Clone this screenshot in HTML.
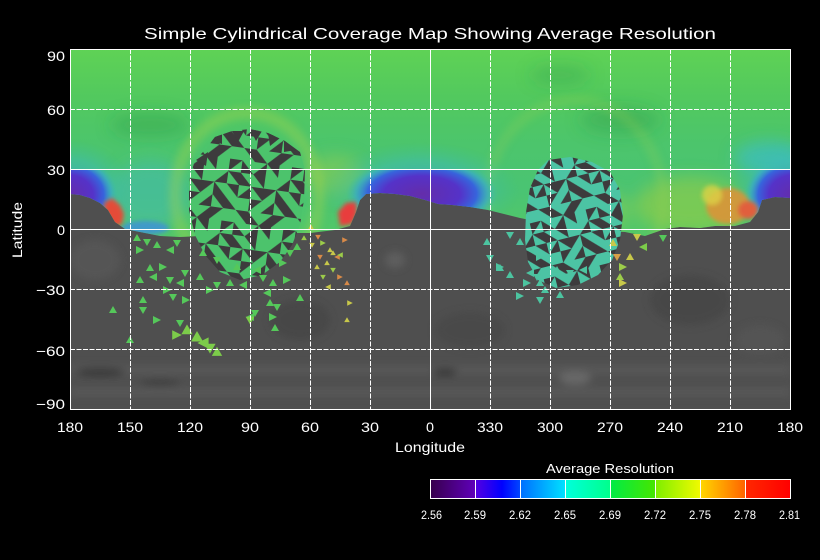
<!DOCTYPE html>
<html><head><meta charset="utf-8"><style>
html,body{margin:0;padding:0;background:#000;}
body{width:820px;height:560px;overflow:hidden;}
svg{display:block;}
text{font-family:"Liberation Sans",sans-serif;fill:#fff;}
</style></head><body>
<svg width="820" height="560" viewBox="0 0 820 560" xmlns="http://www.w3.org/2000/svg">
<defs>
 <clipPath id="plot"><rect x="71" y="50" width="719" height="359"/></clipPath>
 <clipPath id="greenClip"><path d="M70,49 H790 V198 L775,197 L762,200 L758,212 L750,222 L735,226 L715,226 L700,228 L680,227 L665,229 L645,236 L625,232 L600,231 L580,229 L560,226 L540,222 L520,218 L500,213 L488,210 L470,207 L452,205 L438,204 L425,200 L410,196 L395,194 L380,193 L366,194 L360,200 L356,212 L350,226 L335,230 L310,233 L290,233 L250,233 L200,236 L180,237 L160,236 L140,232 L125,229 L115,222 L108,210 L100,203 L90,198 L80,195 L70,194 Z"/></clipPath>
 <clipPath id="below30"><rect x="60" y="169" width="740" height="100"/></clipPath>
 <clipPath id="circL"><path d="M205,150 L215,137 L232,131 L250,129 L268,133 L285,141 L300,152 L305,170 L304,200 L300,225 L292,245 L280,262 L262,275 L240,280 L220,272 L205,255 L195,235 L189,210 L189,180 L195,160 Z"/></clipPath>
 <clipPath id="circR"><path d="M548,160 L570,157 L592,162 L610,172 L620,190 L623,215 L620,240 L612,260 L598,275 L578,285 L556,288 L538,280 L528,262 L525,240 L526,212 L530,188 L538,170 Z"/></clipPath>
 <linearGradient id="gGreen" x1="0" y1="49" x2="0" y2="240" gradientUnits="userSpaceOnUse">
  <stop offset="0" stop-color="rgb(95,210,85)"/>
  <stop offset="0.25" stop-color="rgb(82,201,94)"/>
  <stop offset="0.5" stop-color="rgb(76,197,108)"/>
  <stop offset="0.75" stop-color="rgb(74,196,115)"/>
  <stop offset="1" stop-color="rgb(84,200,102)"/>
 </linearGradient>
 <radialGradient id="purp">
  <stop offset="0" stop-color="rgb(100,45,170)"/>
  <stop offset="0.5" stop-color="rgb(85,50,200)"/>
  <stop offset="0.72" stop-color="rgb(55,100,220)"/>
  <stop offset="0.87" stop-color="rgb(55,165,205)" stop-opacity="0.6"/>
  <stop offset="1" stop-color="rgb(60,190,160)" stop-opacity="0"/>
 </radialGradient>
 <radialGradient id="halo">
  <stop offset="0" stop-color="rgb(55,150,215)" stop-opacity="0.7"/>
  <stop offset="0.6" stop-color="rgb(60,185,190)" stop-opacity="0.45"/>
  <stop offset="1" stop-color="rgb(60,190,160)" stop-opacity="0"/>
 </radialGradient>
 <filter id="b2" x="-50%" y="-50%" width="200%" height="200%"><feGaussianBlur stdDeviation="2"/></filter>
 <filter id="b4" x="-50%" y="-50%" width="200%" height="200%"><feGaussianBlur stdDeviation="4"/></filter>
 <filter id="b8" x="-50%" y="-50%" width="200%" height="200%"><feGaussianBlur stdDeviation="8"/></filter>
 <g id="darkTiles">
  <polygon points="0,0 10,0 0,10"/>
  <polygon points="10,0 10,10 20,10"/>
  <polygon points="30,0 30,10 20,10"/>
  <polygon points="30,0 40,0 40,10"/>
  <polygon points="0,10 10,10 10,20"/>
  <polygon points="10,10 10,20 20,20"/>
  <polygon points="20,10 30,10 30,20"/>
  <polygon points="50,10 50,20 40,20"/>
  <polygon points="0,20 10,20 10,30"/>
  <polygon points="20,20 20,30 10,30"/>
  <polygon points="20,20 30,20 30,30"/>
  <polygon points="30,20 40,20 30,30"/>
  <polygon points="40,20 40,30 50,30"/>
  <polygon points="0,30 0,40 10,40"/>
  <polygon points="20,30 30,30 20,40"/>
  <polygon points="40,30 40,40 30,40"/>
  <polygon points="40,30 50,30 50,40"/>
  <polygon points="10,40 20,40 20,50"/>
  <polygon points="20,40 20,50 30,50"/>
  <polygon points="40,40 40,50 30,50"/>
  <polygon points="40,40 50,40 40,50"/>
 </g>
 <pattern id="pL" width="50" height="50" patternUnits="userSpaceOnUse" patternTransform="rotate(8) scale(1.25)">
  <rect width="50" height="50" fill="#4cc36c"/>
  <use href="#darkTiles" fill="#3d3b3d"/>
 </pattern>
 <pattern id="pR" width="50" height="50" patternUnits="userSpaceOnUse" patternTransform="rotate(-14) scale(1.15)">
  <rect width="50" height="50" fill="#4cc4a4"/>
  <use href="#darkTiles" fill="#3d3b3d"/>
 </pattern>
 <polygon id="t1" points="0,-4 4,3 -4,3"/>
 <polygon id="t2" points="-4,-3 4,-3 0,4"/>
 <polygon id="t3" points="-4,-4 4,0 -4,4"/>
 <polygon id="t4" points="4,-4 -4,0 4,4"/>
 <linearGradient id="cbar" x1="430" y1="0" x2="790" y2="0" gradientUnits="userSpaceOnUse">
  <stop offset="0" stop-color="rgb(55,0,75)"/>
  <stop offset="0.125" stop-color="rgb(95,0,185)"/>
  <stop offset="0.126" stop-color="rgb(85,0,225)"/>
  <stop offset="0.2" stop-color="rgb(0,0,255)"/>
  <stop offset="0.25" stop-color="rgb(0,70,255)"/>
  <stop offset="0.251" stop-color="rgb(0,110,255)"/>
  <stop offset="0.375" stop-color="rgb(0,225,255)"/>
  <stop offset="0.376" stop-color="rgb(0,255,220)"/>
  <stop offset="0.5" stop-color="rgb(0,255,140)"/>
  <stop offset="0.501" stop-color="rgb(0,235,70)"/>
  <stop offset="0.625" stop-color="rgb(70,230,0)"/>
  <stop offset="0.626" stop-color="rgb(125,238,0)"/>
  <stop offset="0.75" stop-color="rgb(240,250,0)"/>
  <stop offset="0.751" stop-color="rgb(255,215,0)"/>
  <stop offset="0.875" stop-color="rgb(255,100,0)"/>
  <stop offset="0.876" stop-color="rgb(255,40,0)"/>
  <stop offset="1" stop-color="rgb(255,0,0)"/>
 </linearGradient>
</defs>

<rect width="820" height="560" fill="#000"/>

<g clip-path="url(#plot)">
 <rect x="70" y="49" width="720" height="360" fill="#4f4f4f"/>
 <g filter="url(#b4)" opacity="0.9">
  <rect x="70" y="365" width="720" height="10" fill="#585858"/>
  <rect x="70" y="388" width="720" height="8" fill="#5a5a5a"/>
  <ellipse cx="100" cy="372" rx="25" ry="4" fill="#353535"/>
  <ellipse cx="160" cy="383" rx="20" ry="3" fill="#3a3a3a"/>
  <ellipse cx="575" cy="378" rx="16" ry="7" fill="#6a6a6a"/>
  <ellipse cx="445" cy="372" rx="12" ry="4" fill="#383838"/>
  <ellipse cx="300" cy="320" rx="30" ry="20" fill="#474747"/>
  <ellipse cx="690" cy="300" rx="40" ry="25" fill="#474747"/>
  <ellipse cx="395" cy="260" rx="10" ry="8" fill="#606060"/>
  <ellipse cx="95" cy="260" rx="25" ry="20" fill="#565656"/>
  <ellipse cx="470" cy="330" rx="35" ry="18" fill="#484848"/>
  <ellipse cx="760" cy="340" rx="25" ry="15" fill="#555"/>
 </g>

 <g clip-path="url(#greenClip)">
  <rect x="70" y="49" width="720" height="200" fill="url(#gGreen)"/>
  <g filter="url(#b8)">
   <ellipse cx="150" cy="125" rx="40" ry="12" fill="rgb(45,150,70)" opacity="0.35"/>
   <ellipse cx="620" cy="120" rx="40" ry="14" fill="rgb(45,150,75)" opacity="0.35"/>
   <ellipse cx="560" cy="75" rx="30" ry="10" fill="rgb(45,150,75)" opacity="0.3"/>
   <ellipse cx="150" cy="195" rx="40" ry="35" fill="rgb(65,185,175)" opacity="0.55"/>
   <ellipse cx="770" cy="158" rx="35" ry="16" fill="rgb(60,190,200)" opacity="0.7"/>
   <ellipse cx="335" cy="175" rx="30" ry="20" fill="rgb(150,205,80)" opacity="0.5"/>
   <ellipse cx="690" cy="205" rx="55" ry="28" fill="rgb(150,205,70)" opacity="0.6"/>
   <ellipse cx="600" cy="210" rx="30" ry="20" fill="rgb(150,205,75)" opacity="0.5"/>
  </g>
  <ellipse cx="247" cy="195" rx="72" ry="82" fill="none" stroke="rgb(165,212,75)" stroke-width="12" opacity="0.38" filter="url(#b4)"/>
  <ellipse cx="575" cy="200" rx="88" ry="100" fill="none" stroke="rgb(160,210,80)" stroke-width="10" opacity="0.22" filter="url(#b4)"/>
  <ellipse cx="72" cy="190" rx="60" ry="50" fill="url(#halo)"/>
  <ellipse cx="790" cy="190" rx="60" ry="50" fill="url(#halo)"/>
  <ellipse cx="420" cy="190" rx="100" ry="48" fill="url(#halo)"/>
  <ellipse cx="145" cy="228" rx="24" ry="7" fill="rgb(60,140,225)" opacity="0.75" filter="url(#b2)"/>
  <g clip-path="url(#below30)">
   <ellipse cx="68" cy="195" rx="50" ry="40" fill="url(#purp)"/>
   <ellipse cx="794" cy="195" rx="50" ry="40" fill="url(#purp)"/>
   <ellipse cx="422" cy="194" rx="76" ry="36" fill="url(#purp)"/>
  </g>
  <g filter="url(#b2)">
   <ellipse cx="728" cy="206" rx="22" ry="18" fill="rgb(225,145,55)" opacity="0.85"/>
   <ellipse cx="712" cy="195" rx="10" ry="10" fill="rgb(220,210,70)" opacity="0.8"/>
   <ellipse cx="748" cy="210" rx="10" ry="9" fill="rgb(225,95,60)"/>
  </g>
  <polygon points="104,203 112,198 120,205 124,214 122,224 112,228 105,222" fill="rgb(228,75,55)" filter="url(#b2)"/>
  <polygon points="338,212 346,203 356,202 357,214 352,224 340,226" fill="rgb(232,60,60)" filter="url(#b2)"/>
 </g>

 <g clip-path="url(#circL)">
  <rect x="180" y="120" width="135" height="170" fill="url(#pL)"/>
  <g fill="#3d3b3d">
   <polygon points="210,140 222,132 222,144"/>
   <polygon points="232,131 244,131 238,142"/>
   <polygon points="250,129 262,131 256,141"/>
   <polygon points="268,133 280,138 270,146"/>
   <polygon points="284,141 296,150 284,152"/>
   <polygon points="196,160 208,152 206,166"/>
  </g>
 </g>
 <g clip-path="url(#circR)"><rect x="520" y="150" width="110" height="145" fill="url(#pR)"/></g>

 <g fill="#55c85a">
  <use href="#t1" x="137" y="238"/><use href="#t2" x="147" y="242"/><use href="#t3" x="140" y="250"/>
  <use href="#t1" x="157" y="245"/><use href="#t4" x="170" y="250"/><use href="#t2" x="177" y="243"/>
  <use href="#t1" x="150" y="268"/><use href="#t3" x="163" y="267"/><use href="#t2" x="170" y="280"/>
  <use href="#t4" x="153" y="277"/><use href="#t1" x="140" y="280"/><use href="#t3" x="167" y="290"/>
  <use href="#t2" x="173" y="297"/><use href="#t1" x="143" y="300"/><use href="#t4" x="180" y="283"/>
  <use href="#t2" x="185" y="273"/><use href="#t1" x="200" y="277"/><use href="#t3" x="210" y="290"/>
  <use href="#t2" x="217" y="285"/><use href="#t1" x="230" y="283"/><use href="#t4" x="243" y="285"/>
  <use href="#t2" x="263" y="278"/><use href="#t1" x="273" y="283"/><use href="#t3" x="287" y="280"/>
  <use href="#t4" x="267" y="293"/><use href="#t1" x="270" y="303"/><use href="#t2" x="277" y="307"/>
  <use href="#t3" x="273" y="317"/><use href="#t1" x="275" y="328"/><use href="#t4" x="250" y="317"/>
  <use href="#t2" x="255" y="313"/><use href="#t1" x="300" y="298"/><use href="#t2" x="180" y="323"/>
  <use href="#t3" x="157" y="320"/><use href="#t1" x="113" y="310"/><use href="#t2" x="143" y="310"/>
  <use href="#t1" x="130" y="340"/><use href="#t1" x="203" y="253"/><use href="#t2" x="217" y="260"/>
  <use href="#t1" x="237" y="267"/><use href="#t4" x="257" y="270"/><use href="#t3" x="283" y="263"/>
  <use href="#t2" x="290" y="253"/><use href="#t1" x="297" y="247"/><use href="#t3" x="186" y="300"/>
 </g>
 <g fill="#7ccc4a">
  <use href="#t1" transform="translate(187,330) scale(1.4)"/><use href="#t3" transform="translate(177,335) scale(1.2)"/>
  <use href="#t1" transform="translate(197,337) scale(1.5)"/><use href="#t4" transform="translate(203,343) scale(1.4)"/>
  <use href="#t2" transform="translate(210,348) scale(1.4)"/><use href="#t1" transform="translate(217,352) scale(1.3)"/>
  <use href="#t2" transform="translate(250,320) scale(1.1)"/>
 </g>
 <g>
  <use href="#t1" transform="translate(311,227) scale(.7)" fill="#c8c84a"/><use href="#t2" transform="translate(318,237) scale(.7)" fill="#d88a48"/>
  <use href="#t3" transform="translate(323,243) scale(.7)" fill="#9ccc4a"/><use href="#t1" transform="translate(330,250) scale(.7)" fill="#c8c84a"/>
  <use href="#t4" transform="translate(337,257) scale(.7)" fill="#d88a48"/><use href="#t1" transform="translate(327,263) scale(.7)" fill="#c8c84a"/>
  <use href="#t2" transform="translate(333,270) scale(.7)" fill="#9ccc4a"/><use href="#t3" transform="translate(340,277) scale(.7)" fill="#d88a48"/>
  <use href="#t1" transform="translate(317,267) scale(.7)" fill="#c8c84a"/><use href="#t2" transform="translate(323,277) scale(.7)" fill="#9ccc4a"/>
  <use href="#t4" transform="translate(328,287) scale(.7)" fill="#c8c84a"/><use href="#t1" transform="translate(347,283) scale(.7)" fill="#d88a48"/>
  <use href="#t3" transform="translate(350,303) scale(.7)" fill="#c8c84a"/><use href="#t1" transform="translate(347,320) scale(.7)" fill="#c8c84a"/>
  <use href="#t2" transform="translate(320,257) scale(.7)" fill="#d88a48"/><use href="#t1" transform="translate(333,253) scale(.7)" fill="#c8c84a"/>
  <use href="#t4" transform="translate(340,255) scale(.7)" fill="#9ccc4a"/><use href="#t2" transform="translate(312,245) scale(.7)" fill="#c8c84a"/>
  <use href="#t1" transform="translate(304,238) scale(.7)" fill="#9ccc4a"/><use href="#t3" transform="translate(345,240) scale(.7)" fill="#d88a48"/>
 </g>
 <g fill="#4cc4a0">
  <use href="#t1" x="487" y="242"/><use href="#t2" x="490" y="258"/><use href="#t3" x="500" y="267"/>
  <use href="#t1" x="510" y="275"/><use href="#t4" x="530" y="273"/><use href="#t2" x="537" y="277"/>
  <use href="#t1" x="540" y="283"/><use href="#t3" x="527" y="283"/><use href="#t2" x="510" y="235"/>
  <use href="#t1" x="520" y="242"/><use href="#t4" x="530" y="250"/><use href="#t3" x="540" y="257"/>
  <use href="#t1" x="557" y="270"/><use href="#t2" x="570" y="273"/><use href="#t4" x="583" y="270"/>
  <use href="#t1" x="500" y="268"/><use href="#t2" x="540" y="300"/><use href="#t1" x="560" y="295"/>
  <use href="#t3" x="520" y="296"/><use href="#t1" x="545" y="290"/>
 </g>
 <g>
  <use href="#t1" x="613" y="243" fill="#c8c84a"/><use href="#t2" x="617" y="257" fill="#d8a048"/>
  <use href="#t3" x="623" y="267" fill="#9ccc4a"/><use href="#t1" x="630" y="257" fill="#c8c84a"/>
  <use href="#t4" x="643" y="247" fill="#7ccc4a"/><use href="#t2" x="637" y="237" fill="#c8c84a"/>
  <use href="#t1" x="620" y="277" fill="#9ccc4a"/><use href="#t3" x="623" y="283" fill="#c8c84a"/>
  <use href="#t2" x="663" y="238" fill="#55c85a"/>
 </g>

 <g stroke="#fff" stroke-width="1" fill="none">
  <g stroke-dasharray="5,1.5">
   <line x1="130.5" y1="49" x2="130.5" y2="409"/><line x1="190.5" y1="49" x2="190.5" y2="409"/>
   <line x1="250.5" y1="49" x2="250.5" y2="409"/><line x1="310.5" y1="49" x2="310.5" y2="409"/>
   <line x1="370.5" y1="49" x2="370.5" y2="409"/><line x1="490.5" y1="49" x2="490.5" y2="409"/>
   <line x1="550.5" y1="49" x2="550.5" y2="409"/><line x1="610.5" y1="49" x2="610.5" y2="409"/>
   <line x1="670.5" y1="49" x2="670.5" y2="409"/><line x1="730.5" y1="49" x2="730.5" y2="409"/>
   <line x1="70" y1="109.5" x2="790" y2="109.5"/><line x1="70" y1="289.5" x2="790" y2="289.5"/>
   <line x1="70" y1="349.5" x2="790" y2="349.5"/>
  </g>
  <line x1="430.5" y1="49" x2="430.5" y2="409"/>
  <line x1="70" y1="169.5" x2="790" y2="169.5"/>
  <line x1="70" y1="229.5" x2="790" y2="229.5"/>
 </g>
</g>
<rect x="70.5" y="49.5" width="720" height="360" fill="none" stroke="#fff" stroke-width="1"/>

<text x="144" y="39" font-size="16" textLength="572" lengthAdjust="spacingAndGlyphs">Simple Cylindrical Coverage Map Showing Average Resolution</text>

<g font-size="14">
 <text x="47" y="61" textLength="18" lengthAdjust="spacingAndGlyphs">90</text>
 <text x="47" y="115" textLength="18" lengthAdjust="spacingAndGlyphs">60</text>
 <text x="47" y="175" textLength="18" lengthAdjust="spacingAndGlyphs">30</text>
 <text x="57" y="235" textLength="8" lengthAdjust="spacingAndGlyphs">0</text>
 <text x="36" y="295" textLength="29" lengthAdjust="spacingAndGlyphs">−30</text>
 <text x="36" y="356" textLength="29" lengthAdjust="spacingAndGlyphs">−60</text>
 <text x="36" y="409" textLength="29" lengthAdjust="spacingAndGlyphs">−90</text>
</g>
<g font-size="14">
 <text x="57" y="432" textLength="26" lengthAdjust="spacingAndGlyphs">180</text>
 <text x="117" y="432" textLength="26" lengthAdjust="spacingAndGlyphs">150</text>
 <text x="177" y="432" textLength="26" lengthAdjust="spacingAndGlyphs">120</text>
 <text x="241" y="432" textLength="18" lengthAdjust="spacingAndGlyphs">90</text>
 <text x="301" y="432" textLength="18" lengthAdjust="spacingAndGlyphs">60</text>
 <text x="361" y="432" textLength="18" lengthAdjust="spacingAndGlyphs">30</text>
 <text x="426" y="432" textLength="8" lengthAdjust="spacingAndGlyphs">0</text>
 <text x="477" y="432" textLength="26" lengthAdjust="spacingAndGlyphs">330</text>
 <text x="537" y="432" textLength="26" lengthAdjust="spacingAndGlyphs">300</text>
 <text x="597" y="432" textLength="26" lengthAdjust="spacingAndGlyphs">270</text>
 <text x="657" y="432" textLength="26" lengthAdjust="spacingAndGlyphs">240</text>
 <text x="717" y="432" textLength="26" lengthAdjust="spacingAndGlyphs">210</text>
 <text x="777" y="432" textLength="26" lengthAdjust="spacingAndGlyphs">180</text>
</g>
<text x="395" y="452" font-size="14" textLength="70" lengthAdjust="spacingAndGlyphs">Longitude</text>
<text transform="translate(22,258) rotate(-90)" font-size="14" textLength="56" lengthAdjust="spacingAndGlyphs">Latitude</text>

<text x="546" y="473" font-size="13" textLength="128" lengthAdjust="spacingAndGlyphs">Average Resolution</text>
<rect x="430.5" y="479.5" width="360" height="19" fill="url(#cbar)" stroke="#fff" stroke-width="1"/>
<g stroke="#fff" stroke-width="1">
 <line x1="475.5" y1="479" x2="475.5" y2="499"/><line x1="520.5" y1="479" x2="520.5" y2="499"/>
 <line x1="565.5" y1="479" x2="565.5" y2="499"/><line x1="610.5" y1="479" x2="610.5" y2="499"/>
 <line x1="655.5" y1="479" x2="655.5" y2="499"/><line x1="700.5" y1="479" x2="700.5" y2="499"/>
 <line x1="745.5" y1="479" x2="745.5" y2="499"/>
</g>
<g font-size="12">
 <text x="421" y="519" textLength="21" lengthAdjust="spacingAndGlyphs">2.56</text>
 <text x="464" y="519" textLength="22" lengthAdjust="spacingAndGlyphs">2.59</text>
 <text x="509" y="519" textLength="22" lengthAdjust="spacingAndGlyphs">2.62</text>
 <text x="554" y="519" textLength="22" lengthAdjust="spacingAndGlyphs">2.65</text>
 <text x="599" y="519" textLength="22" lengthAdjust="spacingAndGlyphs">2.69</text>
 <text x="644" y="519" textLength="22" lengthAdjust="spacingAndGlyphs">2.72</text>
 <text x="689" y="519" textLength="22" lengthAdjust="spacingAndGlyphs">2.75</text>
 <text x="734" y="519" textLength="22" lengthAdjust="spacingAndGlyphs">2.78</text>
 <text x="779" y="519" textLength="21" lengthAdjust="spacingAndGlyphs">2.81</text>
</g>
</svg>
</body></html>
